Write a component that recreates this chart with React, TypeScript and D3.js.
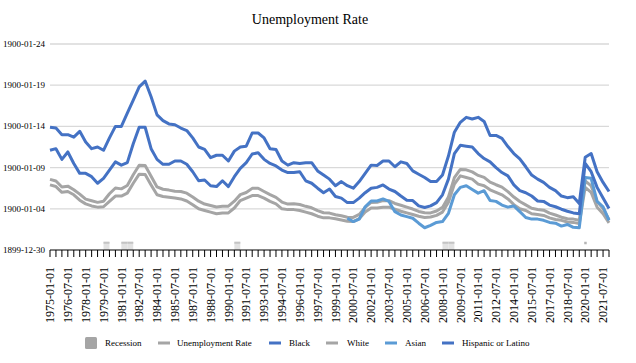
import React from "react";
import * as d3 from "d3";

const categories = [
  "1975-01-01","1975-07-01","1976-01-01","1976-07-01","1977-01-01","1977-07-01","1978-01-01","1978-07-01",
  "1979-01-01","1979-07-01","1980-01-01","1980-07-01","1981-01-01","1981-07-01","1982-01-01","1982-07-01",
  "1983-01-01","1983-07-01","1984-01-01","1984-07-01","1985-01-01","1985-07-01","1986-01-01","1986-07-01",
  "1987-01-01","1987-07-01","1988-01-01","1988-07-01","1989-01-01","1989-07-01","1990-01-01","1990-07-01",
  "1991-01-01","1991-07-01","1992-01-01","1992-07-01","1993-01-01","1993-07-01","1994-01-01","1994-07-01",
  "1995-01-01","1995-07-01","1996-01-01","1996-07-01","1997-01-01","1997-07-01","1998-01-01","1998-07-01",
  "1999-01-01","1999-07-01","2000-01-01","2000-07-01","2001-01-01","2001-07-01","2002-01-01","2002-07-01",
  "2003-01-01","2003-07-01","2004-01-01","2004-07-01","2005-01-01","2005-07-01","2006-01-01","2006-07-01",
  "2007-01-01","2007-07-01","2008-01-01","2008-07-01","2009-01-01","2009-07-01","2010-01-01","2010-07-01",
  "2011-01-01","2011-07-01","2012-01-01","2012-07-01","2013-01-01","2013-07-01","2014-01-01","2014-07-01",
  "2015-01-01","2015-07-01","2016-01-01","2016-07-01","2017-01-01","2017-07-01","2018-01-01","2018-07-01",
  "2019-01-01","2019-07-01","2020-01-01","2020-07-01","2021-01-01","2021-07-01","2022-01-01",
];

const xTickLabels = [
  "1975-01-01","1976-07-01","1978-01-01","1979-07-01","1981-01-01","1982-07-01","1984-01-01","1985-07-01",
  "1987-01-01","1988-07-01","1990-01-01","1991-07-01","1993-01-01","1994-07-01","1996-01-01","1997-07-01",
  "1999-01-01","2000-07-01","2002-01-01","2003-07-01","2005-01-01","2006-07-01","2008-01-01","2009-07-01",
  "2011-01-01","2012-07-01","2014-01-01","2015-07-01","2017-01-01","2018-07-01","2020-01-01","2021-07-01",
];

const yTickValues = [0, 5, 10, 15, 20, 25];
const yTickLabels = ["1899-12-30", "1900-01-04", "1900-01-09", "1900-01-14", "1900-01-19", "1900-01-24"];

const unemploymentRate = [
  8.57, 8.38, 7.65, 7.75, 7.32, 6.78, 6.17, 5.97, 5.78, 5.92,
  6.82, 7.53, 7.42, 7.82, 9.13, 10.28, 10.25, 8.95, 7.65, 7.37,
  7.27, 7.12, 7.1, 6.9, 6.43, 5.92, 5.58, 5.4, 5.22, 5.3,
  5.32, 5.92, 6.72, 6.98, 7.48, 7.5, 7.1, 6.72, 6.38, 5.82,
  5.57, 5.62, 5.52, 5.3, 5.12, 4.77, 4.52, 4.48, 4.28, 4.15,
  3.98, 3.95, 4.32, 5.17, 5.77, 5.8, 6.0, 5.98, 5.65, 5.43,
  5.2, 4.97, 4.68, 4.53, 4.5, 4.73, 5.17, 6.43, 8.78, 9.78,
  9.73, 9.48, 9.05, 8.82, 8.23, 7.92, 7.63, 7.08, 6.43, 5.88,
  5.48, 5.07, 4.92, 4.83, 4.47, 4.25, 3.98, 3.8, 3.75, 3.6,
  8.38, 7.78, 5.9, 5.0, 3.7,
];

const black = [
  14.9, 14.8, 14.0, 14.0, 13.7, 14.4, 13.1, 12.3, 12.5, 12.1,
  13.6, 15.0, 15.0, 16.6, 18.2, 19.8, 20.5, 18.6, 16.4, 15.7,
  15.3, 15.2, 14.8, 14.5, 13.6, 12.5, 12.2, 11.2, 11.5, 11.5,
  10.8, 12.0, 12.5, 12.6, 14.2, 14.2, 13.6, 12.3, 12.2, 10.8,
  10.3, 10.6, 10.5, 10.6, 10.6, 9.6, 9.1, 8.6, 7.8, 8.3,
  7.8, 7.5, 8.3, 9.3, 10.3, 10.25, 10.8, 10.8, 10.1, 10.7,
  10.5, 9.6, 9.2, 8.8, 8.3, 8.3, 9.1, 11.4, 14.3, 15.5,
  16.1, 15.9, 16.1, 15.6, 13.9, 13.9, 13.55, 12.55, 11.7, 11.05,
  10.1, 9.1, 8.6, 8.2, 7.6, 7.2, 6.55, 6.35, 6.45, 5.65,
  11.25, 11.7, 9.5, 8.2, 7.1,
];

const white = [
  7.9, 7.7, 7.0, 7.1, 6.7, 6.05, 5.6, 5.35, 5.2, 5.25,
  5.9, 6.55, 6.55, 6.9, 8.1, 9.2, 9.15, 7.9, 6.7, 6.5,
  6.4, 6.3, 6.2, 5.95, 5.5, 5.0, 4.8, 4.6, 4.4, 4.5,
  4.5, 5.1, 6.0, 6.3, 6.6, 6.6, 6.3, 5.9, 5.6, 5.0,
  4.9, 4.9, 4.8, 4.6, 4.4, 4.1, 3.9, 3.9, 3.8, 3.65,
  3.5, 3.45, 3.8, 4.6, 5.1, 5.1, 5.2, 5.2, 4.95, 4.7,
  4.5, 4.3, 4.1, 3.95, 4.0, 4.2, 4.6, 5.8, 8.0, 9.0,
  8.8, 8.6, 8.0, 7.8, 7.3, 7.0, 6.7, 6.2, 5.5, 5.0,
  4.8, 4.4, 4.3, 4.2, 3.9, 3.7, 3.6, 3.4, 3.35, 3.2,
  7.6, 7.0, 5.2, 4.4, 3.3,
];

const asian: (number | null)[] = [
  null, null, null, null, null, null, null, null, null, null,
  null, null, null, null, null, null, null, null, null, null,
  null, null, null, null, null, null, null, null, null, null,
  null, null, null, null, null, null, null, null, null, null,
  null, null, null, null, null, null, null, null, null, null,
  3.85, 3.45, 3.75, 5.25, 5.95, 5.95, 6.2, 5.9, 4.65, 4.25,
  4.05, 3.85, 3.25, 2.7, 3.0, 3.35, 3.45, 4.45, 6.7, 7.6,
  7.8, 7.35, 6.9, 7.2, 6.0, 5.9, 5.45, 5.2, 5.35, 4.65,
  3.95, 3.75, 3.75, 3.6, 3.35, 3.25, 2.9, 3.1, 2.75, 2.7,
  8.8, 8.7, 5.9, 5.25, 3.6,
];

const hispanic = [
  12.1, 12.3, 11.0, 11.9, 10.5, 9.3, 9.3, 8.9, 8.1, 8.7,
  9.7, 10.7, 10.3, 10.6, 12.9, 14.9, 14.9, 12.3, 11.0, 10.4,
  10.4, 10.8, 10.8, 10.4, 9.5, 8.4, 8.5, 7.8, 7.7, 8.4,
  7.7, 8.9, 9.9, 10.6, 11.65, 11.8, 11.0, 10.5, 10.2, 9.7,
  9.4, 9.4, 9.5, 8.4, 8.1, 7.5, 6.95, 7.4, 6.5, 6.3,
  5.75, 5.75, 6.3, 6.95, 7.5, 7.6, 7.9, 7.4, 7.1, 6.55,
  6.05, 6.0, 5.35, 5.15, 5.35, 5.75, 6.7, 8.6, 11.7, 12.7,
  12.6, 12.5, 11.7, 11.1, 10.7, 10.0, 9.4, 9.0, 7.9, 7.2,
  6.95, 6.55, 5.95, 5.9, 5.45, 5.25, 4.95, 4.7, 4.5, 4.4,
  10.5, 9.5, 7.6, 6.3, 5.05,
];

// Recession flag (value 1) by category band
const recessionCategories = ["1979-07-01", "1981-01-01", "1981-07-01", "1990-07-01", "2008-01-01", "2008-07-01"];
const recessionValue = 1;
const recessionBriefCategories = ["2020-01-01"];

const seriesNames = ["Unemployment Rate", "Black", "White", "Asian", "Hispanic or Latino"];
const seriesColors = ["#a5a5a5", "#4472c4", "#a5a5a5", "#5b9bd5", "#4472c4"];

const W = 636;
const H = 363;
const FONT = "'Liberation Serif', 'Times New Roman', serif";

export default function App() {
  const left = 50;
  const right = 609;
  const top = 44;
  const bottom = 250;

  const x = d3.scalePoint<string>().domain(categories).range([left, right]).padding(0);
  const step = x.step();
  const y = d3.scaleLinear().domain([0, 25]).range([bottom, top]);

  const seriesData = [unemploymentRate, black, white, asian, hispanic];

  const line = d3
    .line<number | null>()
    .defined((d) => d !== null && d !== undefined)
    .x((_, i) => x(categories[i]) as number)
    .y((d) => y(d as number));

  const legendItems = [
    { name: "Recession", sx: 85, tx: 105, type: "rect", color: "#a5a5a5" },
    { name: seriesNames[0], sx: 158, tx: 177, type: "line", color: seriesColors[0] },
    { name: seriesNames[1], sx: 269, tx: 289, type: "line", color: seriesColors[1] },
    { name: seriesNames[2], sx: 326, tx: 347, type: "line", color: seriesColors[2] },
    { name: seriesNames[3], sx: 385, tx: 405, type: "line", color: seriesColors[3] },
    { name: seriesNames[4], sx: 442, tx: 462, type: "line", color: seriesColors[4] },
  ];
  const legendY = 343;

  return (
    <svg width={W} height={H} style={{ display: "block", position: "absolute", left: 0, top: 0 }} fontFamily={FONT}>
      <rect x={0} y={0} width={W} height={H} fill="#ffffff" />
      <text x={310} y={24} textAnchor="middle" fontSize={14} fill="#000">
        Unemployment Rate
      </text>

      {/* gridlines and y labels */}
      {yTickValues.map((v, i) => (
        <g key={"gy" + i}>
          {v !== 0 && (
            <line x1={left} x2={right} y1={y(v)} y2={y(v)} stroke="#d9d9d9" strokeWidth={1.3} />
          )}
          <text x={45} y={y(v) + 3} textAnchor="end" fontSize={9} fill="#000">
            {yTickLabels[i]}
          </text>
        </g>
      ))}

      {/* recession bars */}
      {recessionCategories.map((c) => {
        const x0 = x(c) as number;
        return (
          <g key={"r" + c}>
            <rect x={x0} y={y(recessionValue)} width={step} height={y(0) - y(recessionValue)} fill="#e2e2e2" />
            <line x1={x0} x2={x0 + step} y1={y(recessionValue) + 1} y2={y(recessionValue) + 1} stroke="#c4c4c4" strokeWidth={2} />
          </g>
        );
      })}
      {recessionBriefCategories.map((c) => {
        const x0 = x(c) as number;
        return <rect key={"rb" + c} x={x0 - 1} y={y(recessionValue)} width={2.5} height={2.5} fill="#b5b5b5" />;
      })}

      {/* x axis */}
      <line x1={left} x2={right} y1={bottom} y2={bottom} stroke="#000" strokeWidth={1} />
      {categories.map((c) => (
        <line key={"t" + c} x1={x(c)} x2={x(c)} y1={bottom} y2={bottom + 7} stroke="#000" strokeWidth={1} />
      ))}
      {xTickLabels.map((c) => (
        <text
          key={"xl" + c}
          transform={`translate(${x(c)},${267}) rotate(-90)`}
          textAnchor="end"
          dy="0.35em"
          fontSize={12}
          fill="#000"
        >
          {c}
        </text>
      ))}

      {/* lines */}
      {seriesData.map((s, i) => (
        <path
          key={"s" + i}
          d={line(s as (number | null)[]) || ""}
          fill="none"
          stroke={seriesColors[i]}
          strokeWidth={3}
          strokeLinejoin="round"
          strokeLinecap="butt"
        />
      ))}

      {/* legend */}
      {legendItems.map((it) => (
        <g key={"lg" + it.name}>
          {it.type === "rect" ? (
            <rect x={it.sx} y={legendY - 6} width={12} height={12} rx={1.5} fill={it.color} />
          ) : (
            <rect x={it.sx} y={legendY - 1.5} width={12} height={3} fill={it.color} />
          )}
          <text x={it.tx} y={legendY + 3} fontSize={9} fill="#000">
            {it.name}
          </text>
        </g>
      ))}
    </svg>
  );
}
